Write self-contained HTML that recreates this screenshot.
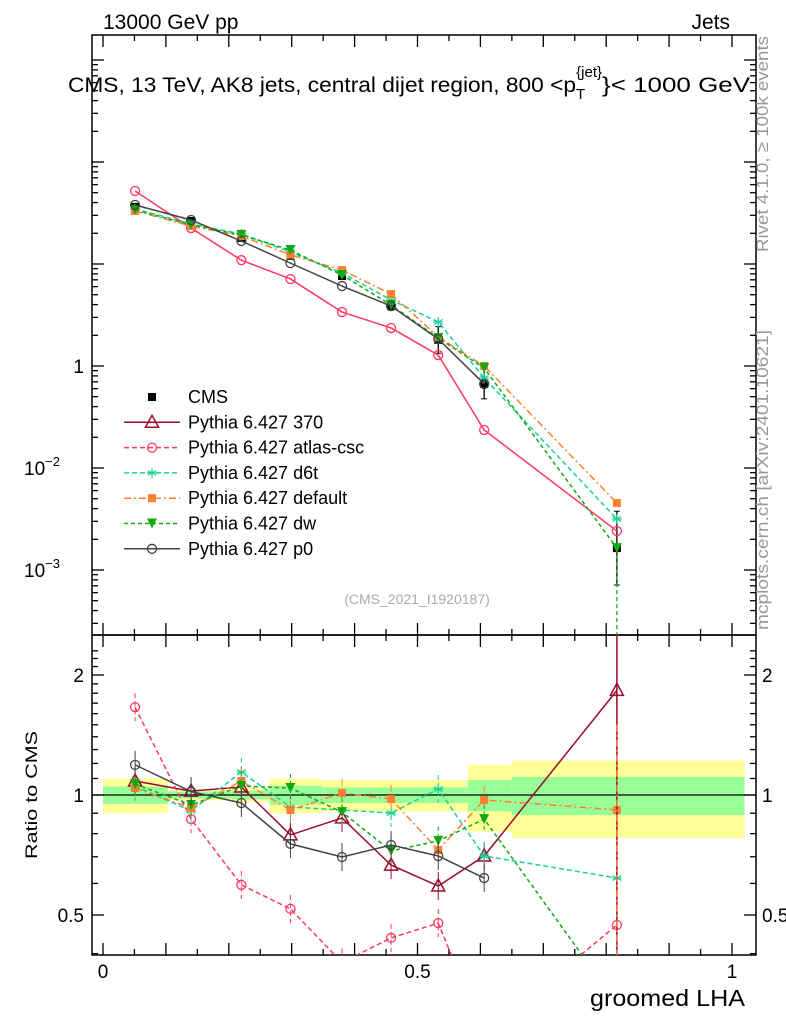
<!DOCTYPE html>
<html><head><meta charset="utf-8"><style>
html,body{margin:0;padding:0;background:#fff;}
svg text{font-family:"Liberation Sans",sans-serif;}
</style></head><body>
<svg id="c" width="786" height="1024" viewBox="0 0 786 1024" xmlns="http://www.w3.org/2000/svg">
<g id="bands"></g>
<g id="axes"></g>
<g id="series"></g>
<text x="103" y="29" font-size="21">13000 GeV pp</text>
<text x="730" y="29" font-size="21" text-anchor="end">Jets</text>
<text x="68" y="92" font-size="21"><tspan textLength="508" lengthAdjust="spacingAndGlyphs">CMS, 13 TeV, AK8 jets, central dijet region, 800 &lt;p</tspan><tspan font-size="15" dy="7">T</tspan><tspan font-size="15" dx="-9" dy="-22">{jet}</tspan><tspan dy="15" textLength="148" lengthAdjust="spacingAndGlyphs">}&lt; 1000 GeV</tspan></text>
<text transform="translate(768,252) rotate(-90)" font-size="17" fill="#999" textLength="216" lengthAdjust="spacingAndGlyphs">Rivet 4.1.0, ≥ 100k events</text>
<text transform="translate(768,630) rotate(-90)" font-size="17" fill="#999" textLength="300" lengthAdjust="spacingAndGlyphs">mcplots.cern.ch [arXiv:2401.10621]</text>
<text x="417" y="604" font-size="14" fill="#aaa" text-anchor="middle">(CMS_2021_I1920187)</text>
<text transform="translate(37,795) rotate(-90)" font-size="17" text-anchor="middle" textLength="128" lengthAdjust="spacingAndGlyphs">Ratio to CMS</text>
<text x="745" y="1006" font-size="23" text-anchor="end" textLength="155" lengthAdjust="spacingAndGlyphs">groomed LHA</text>
<g id="legend"></g>
</svg>
<script>
const NS="http://www.w3.org/2000/svg";
const xs=[0.051,0.140,0.220,0.298,0.380,0.458,0.533,0.606,0.817];
const cmsVals=[3.63,2.64,1.80,1.20,0.762,0.387,0.180,0.0667,0.00164];
const cmsErr=[0.05,0.05,0.05,0.06,0.07,0.1,0.35,0.4,1.3];
const p0Main=[3.79,2.70,1.68,1.02,0.608,0.387,0.184,0.0667,null];
const atlasMain=[5.20,2.25,1.09,0.713,0.338,0.236,0.128,0.0236,0.00241];
const d6tMain=[3.47,2.47,1.97,1.31,0.816,0.444,0.270,0.0763,0.00316];
const defMain=[3.31,2.36,1.88,1.23,0.873,0.508,0.192,0.100,0.00454];
const dwMain=[3.39,2.42,1.93,1.37,0.780,0.396,0.188,0.0955,0.00164];
const r370=[1.084,1.023,1.047,0.794,0.876,0.667,0.591,0.703,1.83];
const rAtlas=[1.66,0.87,0.595,0.518,0.38,0.438,0.477,0.25,0.472];
const rD6t=[1.053,0.912,1.142,0.933,0.917,0.901,1.035,0.703,0.619];
const rDef=[1.041,0.928,1.084,0.917,1.012,0.977,0.728,0.972,0.917];
const rDw=[1.065,0.944,1.053,1.041,0.906,0.724,0.767,0.87,0.3];
const rP0=[1.19,1.02,0.955,0.754,0.699,0.749,0.703,0.619,null];
const bandEdges=[0,0.103,0.205,0.265,0.348,0.429,0.58,0.65,1.02];
const band2=[0.1,0.03,0.04,0.1,0.09,0.09,0.19,0.22];
const band1=[0.05,0.02,0.025,0.055,0.045,0.045,0.09,0.11];
const mainTickVals=[0.1,0.01,0.001];
const mainTickLabels=["1","10","10"];
const mainTickExp=["","−2","−3"];
const ratioTickVals=[0.5,1,2];
const ratioTickLabels=["0.5","1","2"];
const xTickVals=[0,0.5,1];
const xTickLabels=["0","0.5","1"];

const L=92,R=756,T=35,MB=635,RB=955;
const X=v=>103+629*v;
const Ym=v=>468-102*(Math.log10(v)+2);
const Yr=v=>795-120*Math.log2(v);
function mk(tag,attrs,parent){const e=document.createElementNS(NS,tag);for(const k in attrs)e.setAttribute(k,attrs[k]);parent.appendChild(e);return e;}
const axes=document.getElementById('axes'),ser=document.getElementById('series'),bands=document.getElementById('bands');

for(let i=0;i<band2.length;i++){
 const x0=X(bandEdges[i]),x1=X(bandEdges[i+1]);
 const y=mk('rect',{x:x0,y:Yr(1+band2[i]),width:x1-x0,height:Yr(1-band2[i])-Yr(1+band2[i]),fill:'#ffff99'},bands);
 
 
 const g=mk('rect',{x:x0,y:Yr(1+band1[i]),width:x1-x0,height:Yr(1-band1[i])-Yr(1+band1[i]),fill:'#99ff99'},bands);
 
 
}
mk('line',{x1:L,x2:R,y1:Yr(1),y2:Yr(1),stroke:'#000','stroke-width':1.3},axes);

mk('rect',{x:L,y:T,width:R-L,height:MB-T,fill:'none',stroke:'#000','stroke-width':1.5},axes);
mk('rect',{x:L,y:MB,width:R-L,height:RB-MB,fill:'none',stroke:'#000','stroke-width':1.5},axes);
for(let k=-1;k<=21;k++){const v=k*0.05,x=X(v);if(x<L||x>R)continue;const len=(k%2==0)?12:6;
 [[T,1],[MB,-1],[MB,1],[RB,-1]].forEach(([y0,d])=>mk('line',{x1:x,x2:x,y1:y0,y2:y0+d*len,stroke:'#000','stroke-width':1.3},axes));}
xTickVals.forEach((v,i)=>{const t=mk('text',{x:X(v),y:978,'font-size':19,'text-anchor':'middle'},axes);t.textContent=xTickLabels[i];
 
 });
for(let d=-4;d<=2;d++){for(let m=1;m<10;m++){const v=m*Math.pow(10,d);const y=Ym(v);if(y<T||y>MB)continue;const len=m==1?12:6;
 mk('line',{x1:L,x2:L+len,y1:y,y2:y,stroke:'#000','stroke-width':1.3},axes);mk('line',{x1:R,x2:R-len,y1:y,y2:y,stroke:'#000','stroke-width':1.3},axes);}}
mainTickVals.forEach((v,i)=>{const t=mk('text',{x:84,y:Ym(v)+7,'font-size':19,'text-anchor':'end'},axes);t.textContent=mainTickLabels[i];
 
 
 if(mainTickExp[i]){t.setAttribute('x',60);const s=mk('tspan',{'font-size':13,dy:-9},t);s.textContent=mainTickExp[i];}});
for(let k=4;k<=23;k++){const v=k/10;const y=Yr(v);if(y<MB||y>RB)continue;const len=(v==0.5||v==1||v==2)?12:6;
 mk('line',{x1:L,x2:L+len,y1:y,y2:y,stroke:'#000','stroke-width':1.3},axes);mk('line',{x1:R,x2:R-len,y1:y,y2:y,stroke:'#000','stroke-width':1.3},axes);}
ratioTickVals.forEach((v,i)=>{[[84,'end'],[762,'start']].forEach(([x,a])=>{const t=mk('text',{x:x,y:Yr(v)+7,'font-size':19,'text-anchor':a},axes);t.textContent=ratioTickLabels[i];
 
 });});

function marker(type,x,y,col,g){
 if(type=='sq')mk('rect',{x:x-4,y:y-4,width:8,height:8,fill:col},g);
 else if(type=='circ')mk('circle',{cx:x,cy:y,r:4.5,fill:'none',stroke:col,'stroke-width':1.3},g);
 else if(type=='tri')mk('path',{d:`M${x},${y-7}L${x+6.5},${y+5}L${x-6.5},${y+5}Z`,fill:'none',stroke:col,'stroke-width':1.5},g);
 else if(type=='tridn')mk('path',{d:`M${x-5},${y-5}L${x+5},${y-5}L${x},${y+5}Z`,fill:col},g);
 else if(type=='star'){for(const a of [0,60,120]){const r=a*Math.PI/180;mk('line',{x1:x-5*Math.sin(r),y1:y-5*Math.cos(r),x2:x+5*Math.sin(r),y2:y+5*Math.cos(r),stroke:col,'stroke-width':1.2},g);}mk('line',{x1:x-5,x2:x+5,y1:y,y2:y,stroke:col,'stroke-width':1.2},g);}
}
const defs=[
 {name:'pythia-370',col:'#9a0a2a',dash:'',mk:'tri',main:null,ratio:r370,label:'Pythia 6.427 370'},
 {name:'pythia-atlas-csc',col:'#ff3860',dash:'5,3',mk:'circ',main:atlasMain,ratio:rAtlas,label:'Pythia 6.427 atlas-csc'},
 {name:'pythia-d6t',col:'#1ad19a',dash:'5,3',mk:'star',main:d6tMain,ratio:rD6t,label:'Pythia 6.427 d6t'},
 {name:'pythia-default',col:'#ff8030',dash:'7,3,2,3',mk:'sq',main:defMain,ratio:rDef,label:'Pythia 6.427 default'},
 {name:'pythia-dw',col:'#10aa10',dash:'4,3',mk:'tridn',main:dwMain,ratio:rDw,label:'Pythia 6.427 dw'},
 {name:'pythia-p0',col:'#444',dash:'',mk:'circ',main:p0Main,ratio:rP0,label:'Pythia 6.427 p0'}];
// CMS data first (underneath)
{const g=mk('g',{},ser);
 
 
 cmsVals.forEach((v,i)=>{const x=X(xs[i]);const y1=Ym(v*(1+cmsErr[i])),y2=Ym(v/(1+cmsErr[i]));
 mk('line',{x1:x,x2:x,y1:y1,y2:y2,stroke:'#000','stroke-width':1.3},g);
 mk('line',{x1:x-3,x2:x+3,y1:y1,y2:y1,stroke:'#000'},g);mk('line',{x1:x-3,x2:x+3,y1:y2,y2:y2,stroke:'#000'},g);
 marker('sq',x,Ym(v),'#000',g);});
}
defs.forEach(d=>{
 if(!d.main)return;
 const g=mk('g',{},ser);
 
 
 const pts=[];d.main.forEach((v,i)=>{if(v!=null)pts.push([X(xs[i]),Ym(v)]);});
 mk('polyline',{points:pts.map(p=>p.join(',')).join(' '),fill:'none',stroke:d.col,'stroke-width':1.5,'stroke-dasharray':d.name=='pythia-atlas-csc'?'':d.dash},g);
 pts.forEach(p=>marker(d.mk,p[0],p[1],d.col,g));
});
mk('line',{x1:X(xs[8]),x2:X(xs[8]),y1:Ym(dwMain[8]),y2:MB,stroke:'#10aa10','stroke-width':1.3,'stroke-dasharray':'4,3'},ser);
const clip=mk('clipPath',{id:'rc'},document.getElementById('c'));
mk('rect',{x:L,y:MB,width:R-L,height:RB-MB},clip);
defs.forEach(d=>{
 const g=mk('g',{'clip-path':'url(#rc)'},ser);
 
 
 const pts=[];d.ratio.forEach((v,i)=>{if(v!=null)pts.push([X(xs[i]),Yr(v)]);});
 mk('polyline',{points:pts.map(p=>p.join(',')).join(' '),fill:'none',stroke:d.col,'stroke-width':1.5,'stroke-dasharray':d.dash},g);
 pts.forEach(p=>{mk('line',{x1:p[0],x2:p[0],y1:p[1]-14,y2:p[1]+14,stroke:d.col,'stroke-width':1,'stroke-dasharray':d.dash},g);marker(d.mk,p[0],p[1],d.col,g);});
});
{const x=X(xs[8]);mk('line',{x1:x,x2:x,y1:MB,y2:RB,stroke:'#9a0a2a','stroke-width':1.5},ser);
 mk('line',{x1:x,x2:x,y1:Yr(1.5),y2:RB,stroke:'#ff8030','stroke-width':1.3,'stroke-dasharray':'7,3,2,3'},ser);}

const lg=document.getElementById('legend');
const rows=[{label:'CMS',col:'#000',mk:'sq',dash:null,name:'cms'}].concat(defs.map(d=>({label:d.label,col:d.col,mk:d.mk,dash:d.dash,name:d.name})));
rows.forEach((r,i)=>{const y=397+i*25.3;const g=mk('g',{},lg);
 
 
 if(r.dash!==null)mk('line',{x1:124,x2:180,y1:y,y2:y,stroke:r.col,'stroke-width':1.5,'stroke-dasharray':r.dash},g);
 marker(r.mk,152,y,r.col,g);
 const t=mk('text',{x:188,y:y+6,'font-size':18},g);t.textContent=r.label;});
</script>
</body></html>
